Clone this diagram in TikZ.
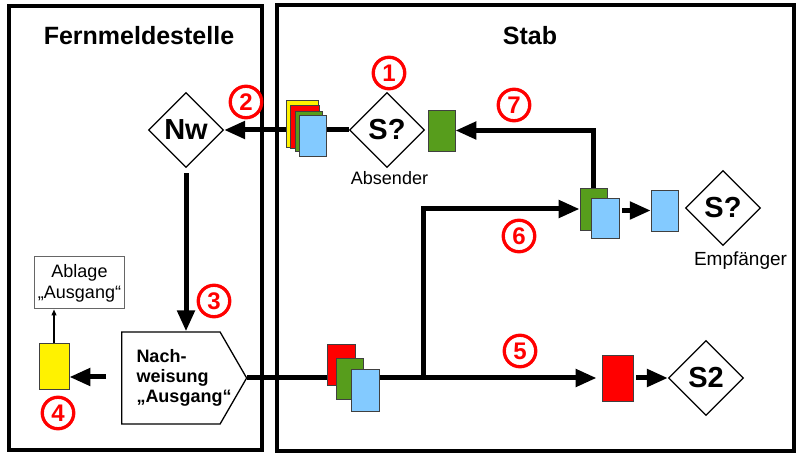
\documentclass[tikz,border=0pt]{standalone}
\usepackage{fontspec}
\setmainfont{Liberation Sans}
\usetikzlibrary{arrows.meta,shapes.geometric,shapes.symbols,backgrounds}

\definecolor{docgreen}{HTML}{579D1C}
\definecolor{docblue}{HTML}{83CAFF}

\tikzset{
  frame/.style={line width=4.5pt},
  doc/.style={draw=black!75, line width=0.8pt, minimum width=27pt, minimum height=41pt, inner sep=0pt},
  station/.style={diamond, draw, line width=1.2pt, fill=white, minimum width=75pt, minimum height=75pt, inner sep=0pt, font=\bfseries\fontsize{29}{29}\selectfont},
  stepnum/.style={circle, draw=red, line width=3.3pt, minimum size=31.5pt, inner sep=0pt, text=red, font=\bfseries\fontsize{24}{24}\selectfont},
  flow/.style={line width=5pt, -{Triangle[length=21pt,width=17pt]}},
  thinflow/.style={line width=1.2pt, -{Triangle[length=6pt,width=5pt]}},
  lbl/.style={font=\fontsize{18}{21}\selectfont, align=center},
  title/.style={font=\bfseries\fontsize{25}{25}\selectfont},
}

\begin{document}
\begin{tikzpicture}[x=1pt,y=-1pt]
  \useasboundingbox (0,0) rectangle (796,454);
  \draw[frame] (9,6) rectangle (262,450);
  \draw[frame] (277,5) rectangle (794,451);
  \node[title] (tfern) at (139,36) {Fernmeldestelle};
  \node[title] (tstab) at (530,36) {Stab};

  % stations
  \node[station] (nw)     at (186,130) {Nw};
  \node[station] (sender) at (387,130) {S?};
  \node[station] (recv)   at (723,208) {S?};
  \node[station] (s2)     at (706,378) {S2};
  \node[lbl] (absender)  at (389.5,178.5) {Absender};
  \node[lbl, anchor=base, font=\fontsize{19}{21}\selectfont] (empf) at (740.5,266) {Empfänger};

  \node[signal, signal to=east, signal pointer angle=120, draw, line width=1.3pt,
        minimum width=125pt, minimum height=92pt, inner sep=0pt, anchor=west] (nachw) at (121,378) {};
  \node[font=\bfseries\fontsize{18}{20}\selectfont, align=left] (nachwtext) at (184,378) {Nach-\\weisung\\„Ausgang“};
  \node[lbl, draw=black!60, line width=1pt, minimum width=89pt, minimum height=52pt] (ablage) at (79.5,283) {Ablage\\„Ausgang“};

  % documents
  \node[doc, fill=yellow, minimum width=30pt, minimum height=46pt] (ydoc) at (54,366) {};
  \node[doc, fill=yellow, minimum width=32pt, minimum height=47pt] (sy) at (302,123.5) {};
  \node[doc, fill=red, minimum width=29pt, minimum height=43pt]    (sr) at (305.3,127) {};
  \node[doc, fill=docgreen, minimum height=40pt]                   (sg) at (308.5,131) {};
  \node[doc, fill=docblue]                                         (sb) at (313,136) {};
  \node[doc, fill=docgreen] (g7) at (441.5,130.5) {};
  \node[doc, fill=docgreen, minimum height=42pt] (mg) at (593.5,209) {};
  \node[doc, fill=docblue, minimum width=28pt, minimum height=40pt] (mb) at (605,218.3) {};
  \node[doc, fill=docblue] (rb) at (664.7,210.5) {};
  \node[doc, fill=red, minimum width=28pt] (br) at (341.7,365) {};
  \node[doc, fill=docgreen] (bg) at (350.3,378.8) {};
  \node[doc, fill=docblue, minimum width=28pt, minimum height=42pt] (bb) at (365,390) {};
  \node[doc, fill=red, minimum width=31pt, minimum height=46pt] (rr) at (617.5,378) {};

  % step numbers
  \node[stepnum] (n1) at (389,73)  {1};
  \node[stepnum] (n2) at (246,102) {2};
  \node[stepnum] (n3) at (214,301) {3};
  \node[stepnum] (n4) at (58,413)  {4};
  \node[stepnum] (n5) at (520,351) {5};
  \node[stepnum] (n6) at (519,236) {6};
  \node[stepnum] (n7) at (514,105) {7};

  \coordinate (jn) at (423,378);
  \coordinate (ystart) at (106,377);

  \begin{scope}[on background layer]
    \draw[flow] (sender.west) -- (nw.east);
    \draw[flow, shorten <=5pt] (nw.south) -- (nw.south |- nachw.north);
    \draw[flow, shorten >=5pt] (nachw.east) -- (rr.west);
    \draw[flow] (jn) |- (mg.west);
    \draw[flow] (mg.north) |- (g7.east);
    \draw[flow, shorten <=3pt] (rb.west -| mb.east) -- (rb.west);
    \draw[flow, shorten <=3pt] (rr.east) -- (s2.west);
    \draw[flow] (ystart) -- (ystart -| ydoc.east);
    \draw[thinflow] (ydoc.north) -- (ydoc.north |- ablage.south);
  \end{scope}
\end{tikzpicture}
\end{document}
